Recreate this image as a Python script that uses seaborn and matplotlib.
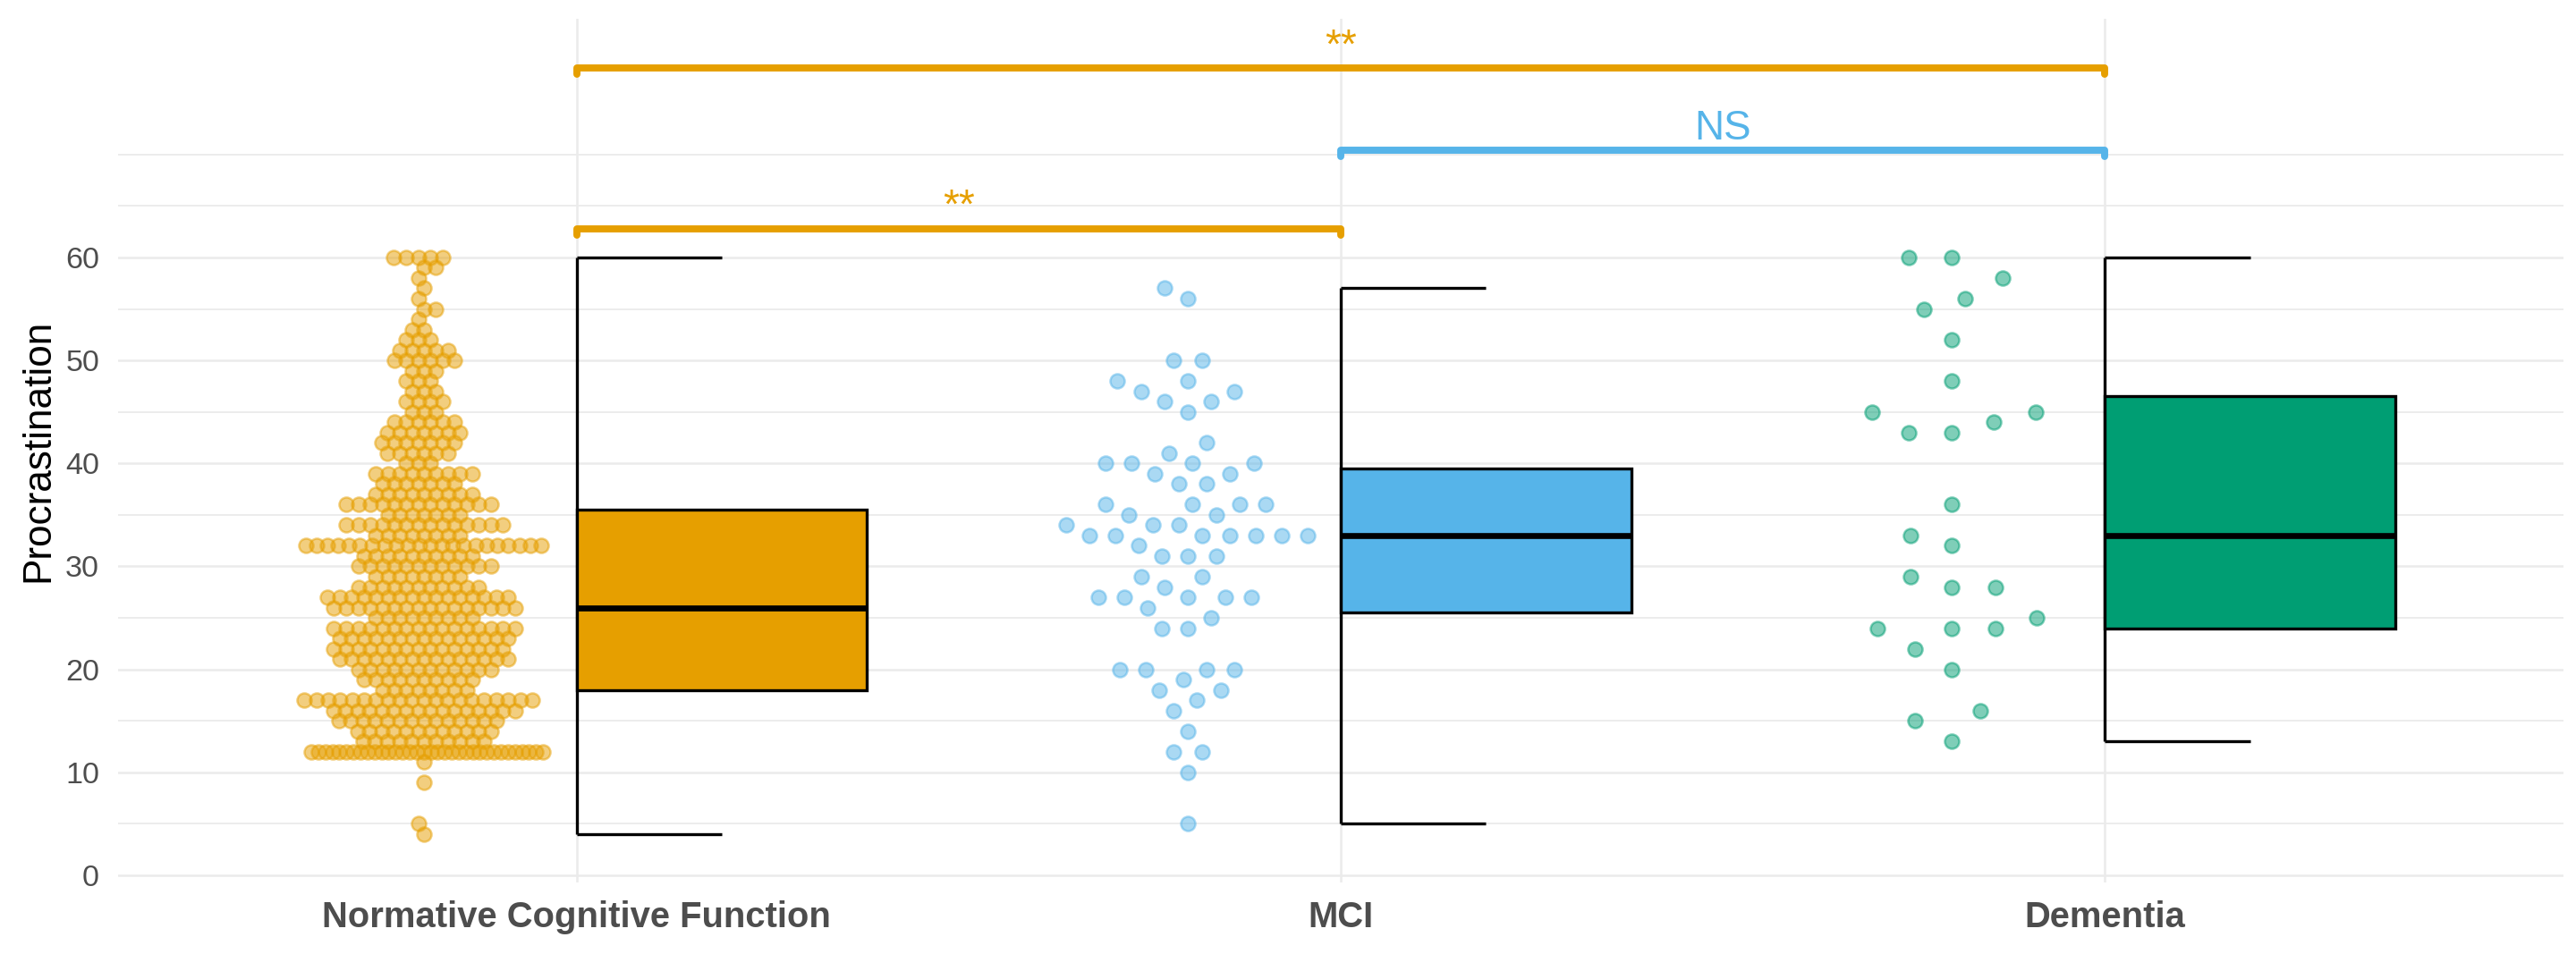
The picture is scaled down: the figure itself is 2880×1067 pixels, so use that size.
import numpy as np
import pandas as pd
import matplotlib
matplotlib.use('Agg')
import matplotlib.pyplot as plt
import seaborn as sns

# groups and colours
groups = ['Normative Cognitive Function', 'MCI', 'Dementia']
colors = ['#E69F00', '#56B4E9', '#009E73']

# normative group: each score and how many people had it
ncf_scores = [4, 5, 9, 11, 12, 13, 14, 15, 16, 17, 18, 19, 20, 21, 22, 23, 24, 25,
              26, 27, 28, 29, 30, 31, 32, 33, 34, 35, 36, 37, 38, 39, 40, 41, 42, 43,
              44, 45, 46, 47, 48, 49, 50, 51, 52, 53, 54, 55, 56, 57, 58, 59, 60]
ncf_counts = [1, 1, 1, 1, 34, 11, 12, 14, 16, 20, 8, 10, 12, 15, 15, 15, 16, 9,
              16, 16, 11, 8, 12, 10, 22, 8, 14, 7, 13, 9, 7, 9, 3, 6, 7, 7,
              6, 3, 4, 3, 3, 3, 6, 5, 3, 2, 1, 2, 1, 1, 1, 2, 5]

mci_scores = [57, 56, 50, 50, 48, 48, 47, 47, 46, 46, 45, 42, 41, 40, 40, 40, 40,
              39, 39, 38, 38, 36, 36, 36, 36, 35, 35, 34, 34, 34, 33, 33, 33, 33,
              33, 33, 33, 32, 31, 31, 31, 29, 29, 28, 27, 27, 27, 27, 27, 26, 25,
              24, 24, 20, 20, 20, 20, 19, 18, 18, 17, 16, 14, 12, 12, 10, 5]

dementia_scores = [60, 60, 58, 56, 55, 52, 48, 45, 45, 44, 43, 43, 36, 33, 32, 29,
                   28, 28, 25, 24, 24, 24, 22, 20, 16, 15, 13]

# significance comparisons (group positions 1..3)
sig_pairs = [(1, 2), (2, 3), (1, 3)]
sig_labels = ['**', 'NS', '**']
sig_colors = ['#E69F00', '#56B4E9', '#E69F00']

data = {
    groups[0]: np.repeat(ncf_scores, ncf_counts),
    groups[1]: np.array(mci_scores),
    groups[2]: np.array(dementia_scores),
}

# layout settings
positions = [1, 2, 3]
swarm_shift = -0.2
box_width = 0.38
bracket_y = [62.8, 70.4, 78.4]
bracket_tip = 0.6
swarm_pack = [3.1, 6.6, 11.0]      # marker size (pt) used only for the swarm layout
swarm_row_max = [61, 200, 200]     # max width (pt) of one row of equal scores
point_size = 3.85

sns.set_style('white')
plt.rcParams['font.family'] = ['Liberation Sans', 'DejaVu Sans']

fig, ax = plt.subplots(figsize=(9.6, 1067 / 300), dpi=300)
fig.subplots_adjust(left=0.0458, right=0.9951, bottom=0.075, top=0.9803)

swarm_sets = []
for grp, pos, col, pack, row_max in zip(groups, positions, colors, swarm_pack, swarm_row_max):
    vals = data[grp]
    df = pd.DataFrame({'pos': pos + swarm_shift, 'score': vals})
    n_before = len(ax.collections)
    sns.swarmplot(data=df, x='pos', y='score', native_scale=True, orient='x',
                  color=col, size=pack, linewidth=0, alpha=0.5, ax=ax, zorder=3)
    for coll in ax.collections[n_before:]:
        # crowded rows get packed tighter so they overlap like the original
        ys = coll.get_offsets()[:, 1]
        uniq, cnt = np.unique(ys, return_counts=True)
        n_row = cnt[np.searchsorted(uniq, ys)]
        coll.set_sizes(np.minimum(pack, row_max / n_row) ** 2)
        swarm_sets.append((coll, col))

# half boxplots: box to the right of the category line, whisker on the line
for grp, pos, col in zip(groups, positions, colors):
    vals = data[grp]
    q1, med, q3 = np.percentile(vals, [25, 50, 75])
    iqr = q3 - q1
    lo = vals[vals >= q1 - 1.5 * iqr].min()
    hi = vals[vals <= q3 + 1.5 * iqr].max()
    ax.vlines(pos, lo, hi, color='black', lw=0.8, zorder=2)
    ax.hlines([lo, hi], pos, pos + box_width / 2, color='black', lw=0.8, zorder=2)
    ax.bar(pos, q3 - q1, bottom=q1, width=box_width, align='edge', color=col,
           edgecolor='black', linewidth=0.8, zorder=2)
    ax.hlines(med, pos, pos + box_width, color='black', lw=1.6, zorder=2.5)

# significance brackets
for (a, b), lab, col, yb in zip(sig_pairs, sig_labels, sig_colors, bracket_y):
    ax.plot([a, a, b, b], [yb - bracket_tip, yb, yb, yb - bracket_tip], color=col,
            lw=1.9, solid_capstyle='round', solid_joinstyle='round', zorder=4)
    ax.text((a + b) / 2, yb + 0.15, lab, ha='center', va='bottom', color=col,
            fontsize=11, zorder=4)

ax.set_xlim(0.4, 3.6)
ax.set_ylim(-0.69, 83.17)
ax.set_xticks(positions)
ax.set_xticklabels(groups, fontsize=9.6, fontweight='bold', color='#4D4D4D')
ax.set_yticks(range(0, 61, 10))
ax.set_yticks([5, 15, 25, 35, 45, 55, 65, 70], minor=True)
ax.tick_params(axis='y', labelsize=8.2, labelcolor='#4D4D4D', length=0, pad=5)
ax.tick_params(axis='y', which='minor', length=0)
ax.tick_params(axis='x', length=0, pad=4.8)
ax.grid(axis='y', which='major', color='#EBEBEB', lw=0.6)
ax.grid(axis='y', which='minor', color='#EBEBEB', lw=0.45)
ax.grid(axis='x', which='major', color='#EBEBEB', lw=0.6)
ax.set_axisbelow(True)
for s in ax.spines.values():
    s.set_visible(False)
ax.set_xlabel('')
ax.set_ylabel('Procrastination', fontsize=10.6, color='black')
ax.yaxis.set_label_coords(-0.0249, 0.5)

# let seaborn lay out the swarms, then freeze them and draw the real points
fig.canvas.draw()
for coll, col in swarm_sets:
    if 'draw' in coll.__dict__:
        del coll.draw
    coll.set_sizes([point_size ** 2])
    coll.set_edgecolor(col)
    coll.set_linewidth(0.6)

fig.savefig('out.png', dpi=300)
